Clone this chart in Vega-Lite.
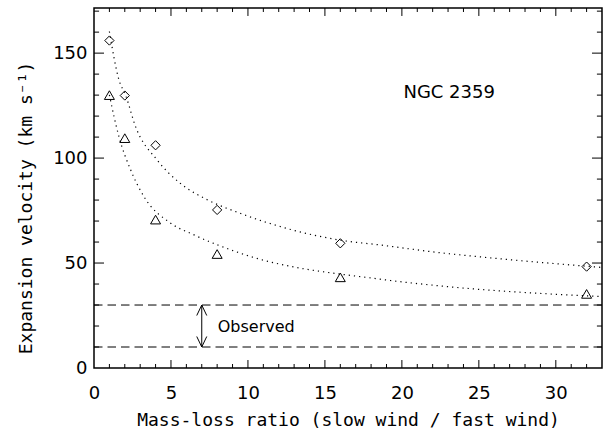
{
  "$schema": "https://vega.github.io/schema/vega-lite/v6.json",
  "width": 508,
  "height": 360,
  "autosize": {"type": "none"},
  "padding": {"left": 94, "top": 8, "right": 3, "bottom": 60},
  "background": "white",
  "config": {
    "view": {"stroke": "black", "strokeWidth": 1.5},
    "font": "DejaVu Sans",
    "axis": {
      "domain": false,
      "grid": false,
      "ticks": false,
      "labelColor": "black",
      "labelFont": "DejaVu Sans",
      "labelFontSize": 18,
      "labelFlush": false,
      "labelOverlap": false,
      "labelBound": false,
      "titleColor": "black",
      "titleFont": "DejaVu Sans Mono",
      "titleFontSize": 18,
      "titleFontWeight": "normal"
    }
  },
  "datasets": {
    "models": [
      {"ratio": 1, "velocity": 156.0, "model": "A"},
      {"ratio": 2, "velocity": 129.8, "model": "A"},
      {"ratio": 4, "velocity": 106.1, "model": "A"},
      {"ratio": 8, "velocity": 75.3, "model": "A"},
      {"ratio": 16, "velocity": 59.4, "model": "A"},
      {"ratio": 32, "velocity": 48.3, "model": "A"},
      {"ratio": 1, "velocity": 130.0, "model": "B"},
      {"ratio": 2, "velocity": 109.5, "model": "B"},
      {"ratio": 4, "velocity": 70.7, "model": "B"},
      {"ratio": 8, "velocity": 54.3, "model": "B"},
      {"ratio": 16, "velocity": 43.2, "model": "B"},
      {"ratio": 32, "velocity": 35.3, "model": "B"}
    ],
    "fits": [
      {"ratio": 1.0, "velocity": 160.3, "model": "A"},
      {"ratio": 1.62, "velocity": 137.3, "model": "A"},
      {"ratio": 2.06, "velocity": 129.8, "model": "A"},
      {"ratio": 2.7, "velocity": 115.0, "model": "A"},
      {"ratio": 4.1, "velocity": 99.1, "model": "A"},
      {"ratio": 5.6, "velocity": 88.0, "model": "A"},
      {"ratio": 7.4, "velocity": 80.0, "model": "A"},
      {"ratio": 9.5, "velocity": 73.7, "model": "A"},
      {"ratio": 16.0, "velocity": 60.9, "model": "A"},
      {"ratio": 18.6, "velocity": 58.6, "model": "A"},
      {"ratio": 22.5, "velocity": 54.9, "model": "A"},
      {"ratio": 25.0, "velocity": 53.0, "model": "A"},
      {"ratio": 33.0, "velocity": 47.9, "model": "A"},
      {"ratio": 1.0, "velocity": 130.1, "model": "B"},
      {"ratio": 1.3, "velocity": 119.8, "model": "B"},
      {"ratio": 1.62, "velocity": 110.2, "model": "B"},
      {"ratio": 2.38, "velocity": 94.4, "model": "B"},
      {"ratio": 3.25, "velocity": 81.6, "model": "B"},
      {"ratio": 4.98, "velocity": 69.0, "model": "B"},
      {"ratio": 6.5, "velocity": 63.4, "model": "B"},
      {"ratio": 9.5, "velocity": 54.7, "model": "B"},
      {"ratio": 18.6, "velocity": 42.3, "model": "B"},
      {"ratio": 22.5, "velocity": 39.1, "model": "B"},
      {"ratio": 33.0, "velocity": 34.0, "model": "B"}
    ],
    "observed": [
      {"ratio": 7, "low": 10, "high": 30, "label": "Observed", "labelRatio": 8.04, "labelVelocity": 17.2}
    ],
    "bounds": [
      {"velocity": 10},
      {"velocity": 30}
    ],
    "object": [
      {"ratio": 20.1, "velocity": 128.7, "label": "NGC 2359"}
    ],
    "ratioTicks": [
      {"ratio": 1, "from": 0, "to": 1.9}, {"ratio": 2, "from": 0, "to": 1.9}, {"ratio": 3, "from": 0, "to": 1.9}, {"ratio": 4, "from": 0, "to": 1.9},
      {"ratio": 5, "from": 0, "to": 3.8}, {"ratio": 6, "from": 0, "to": 1.9}, {"ratio": 7, "from": 0, "to": 1.9}, {"ratio": 8, "from": 0, "to": 1.9},
      {"ratio": 9, "from": 0, "to": 1.9}, {"ratio": 10, "from": 0, "to": 3.8}, {"ratio": 11, "from": 0, "to": 1.9}, {"ratio": 12, "from": 0, "to": 1.9},
      {"ratio": 13, "from": 0, "to": 1.9}, {"ratio": 14, "from": 0, "to": 1.9}, {"ratio": 15, "from": 0, "to": 3.8}, {"ratio": 16, "from": 0, "to": 1.9},
      {"ratio": 17, "from": 0, "to": 1.9}, {"ratio": 18, "from": 0, "to": 1.9}, {"ratio": 19, "from": 0, "to": 1.9}, {"ratio": 20, "from": 0, "to": 3.8},
      {"ratio": 21, "from": 0, "to": 1.9}, {"ratio": 22, "from": 0, "to": 1.9}, {"ratio": 23, "from": 0, "to": 1.9}, {"ratio": 24, "from": 0, "to": 1.9},
      {"ratio": 25, "from": 0, "to": 3.8}, {"ratio": 26, "from": 0, "to": 1.9}, {"ratio": 27, "from": 0, "to": 1.9}, {"ratio": 28, "from": 0, "to": 1.9},
      {"ratio": 29, "from": 0, "to": 1.9}, {"ratio": 30, "from": 0, "to": 3.8}, {"ratio": 31, "from": 0, "to": 1.9}, {"ratio": 32, "from": 0, "to": 1.9},
      {"ratio": 1, "from": 171.5, "to": 169.6}, {"ratio": 2, "from": 171.5, "to": 169.6}, {"ratio": 3, "from": 171.5, "to": 169.6}, {"ratio": 4, "from": 171.5, "to": 169.6},
      {"ratio": 5, "from": 171.5, "to": 167.7}, {"ratio": 6, "from": 171.5, "to": 169.6}, {"ratio": 7, "from": 171.5, "to": 169.6}, {"ratio": 8, "from": 171.5, "to": 169.6},
      {"ratio": 9, "from": 171.5, "to": 169.6}, {"ratio": 10, "from": 171.5, "to": 167.7}, {"ratio": 11, "from": 171.5, "to": 169.6}, {"ratio": 12, "from": 171.5, "to": 169.6},
      {"ratio": 13, "from": 171.5, "to": 169.6}, {"ratio": 14, "from": 171.5, "to": 169.6}, {"ratio": 15, "from": 171.5, "to": 167.7}, {"ratio": 16, "from": 171.5, "to": 169.6},
      {"ratio": 17, "from": 171.5, "to": 169.6}, {"ratio": 18, "from": 171.5, "to": 169.6}, {"ratio": 19, "from": 171.5, "to": 169.6}, {"ratio": 20, "from": 171.5, "to": 167.7},
      {"ratio": 21, "from": 171.5, "to": 169.6}, {"ratio": 22, "from": 171.5, "to": 169.6}, {"ratio": 23, "from": 171.5, "to": 169.6}, {"ratio": 24, "from": 171.5, "to": 169.6},
      {"ratio": 25, "from": 171.5, "to": 167.7}, {"ratio": 26, "from": 171.5, "to": 169.6}, {"ratio": 27, "from": 171.5, "to": 169.6}, {"ratio": 28, "from": 171.5, "to": 169.6},
      {"ratio": 29, "from": 171.5, "to": 169.6}, {"ratio": 30, "from": 171.5, "to": 167.7}, {"ratio": 31, "from": 171.5, "to": 169.6}, {"ratio": 32, "from": 171.5, "to": 169.6}
    ],
    "velocityTicks": [
      {"velocity": 10, "from": 0, "to": 0.33}, {"velocity": 20, "from": 0, "to": 0.33}, {"velocity": 30, "from": 0, "to": 0.33}, {"velocity": 40, "from": 0, "to": 0.33},
      {"velocity": 50, "from": 0, "to": 0.65}, {"velocity": 60, "from": 0, "to": 0.33}, {"velocity": 70, "from": 0, "to": 0.33}, {"velocity": 80, "from": 0, "to": 0.33},
      {"velocity": 90, "from": 0, "to": 0.33}, {"velocity": 100, "from": 0, "to": 0.65}, {"velocity": 110, "from": 0, "to": 0.33}, {"velocity": 120, "from": 0, "to": 0.33},
      {"velocity": 130, "from": 0, "to": 0.33}, {"velocity": 140, "from": 0, "to": 0.33}, {"velocity": 150, "from": 0, "to": 0.65}, {"velocity": 160, "from": 0, "to": 0.33},
      {"velocity": 170, "from": 0, "to": 0.33},
      {"velocity": 10, "from": 33, "to": 32.67}, {"velocity": 20, "from": 33, "to": 32.67}, {"velocity": 30, "from": 33, "to": 32.67}, {"velocity": 40, "from": 33, "to": 32.67},
      {"velocity": 50, "from": 33, "to": 32.35}, {"velocity": 60, "from": 33, "to": 32.67}, {"velocity": 70, "from": 33, "to": 32.67}, {"velocity": 80, "from": 33, "to": 32.67},
      {"velocity": 90, "from": 33, "to": 32.67}, {"velocity": 100, "from": 33, "to": 32.35}, {"velocity": 110, "from": 33, "to": 32.67}, {"velocity": 120, "from": 33, "to": 32.67},
      {"velocity": 130, "from": 33, "to": 32.67}, {"velocity": 140, "from": 33, "to": 32.67}, {"velocity": 150, "from": 33, "to": 32.35}, {"velocity": 160, "from": 33, "to": 32.67},
      {"velocity": 170, "from": 33, "to": 32.67}
    ]
  },
  "layer": [
    {
      "description": "Model A expansion velocities (diamonds); labelled bottom and left axes",
      "data": {"name": "models"},
      "transform": [{"filter": "datum.model === 'A'"}],
      "mark": {"type": "point", "shape": "diamond", "size": 85, "filled": false, "stroke": "black", "strokeWidth": 1, "opacity": 1},
      "encoding": {
        "x": {
          "field": "ratio", "type": "quantitative",
          "scale": {"domain": [0, 33], "nice": false, "zero": false},
          "axis": {
            "orient": "bottom",
            "values": [0, 5, 10, 15, 20, 25, 30],
            "labelPadding": 16,
            "title": "Mass-loss ratio (slow wind / fast wind)",
            "titleX": 254, "titleY": 57, "titleBaseline": "alphabetic"
          }
        },
        "y": {
          "field": "velocity", "type": "quantitative",
          "scale": {"domain": [0, 171.5], "nice": false, "zero": false},
          "axis": {
            "orient": "left",
            "values": [0, 50, 100, 150],
            "labelPadding": 7,
            "title": "Expansion velocity (km s⁻¹)",
            "titleAngle": 270, "titleX": -68, "titleY": 199.5, "titleBaseline": "middle"
          }
        }
      }
    },
    {
      "description": "Model B expansion velocities (triangles)",
      "data": {"name": "models"},
      "transform": [{"filter": "datum.model === 'B'"}],
      "mark": {"type": "point", "shape": "triangle-up", "size": 100, "filled": false, "stroke": "black", "strokeWidth": 1, "opacity": 1},
      "encoding": {
        "x": {"field": "ratio", "type": "quantitative", "scale": {"domain": [0, 33], "nice": false, "zero": false}, "axis": null},
        "y": {"field": "velocity", "type": "quantitative", "scale": {"domain": [0, 171.5], "nice": false, "zero": false}, "axis": null}
      }
    },
    {
      "description": "Inward ratio ticks along the bottom and top edges",
      "data": {"name": "ratioTicks"},
      "mark": {"type": "rule", "stroke": "black", "strokeWidth": 1},
      "encoding": {
        "x": {"field": "ratio", "type": "quantitative", "scale": {"domain": [0, 33], "nice": false, "zero": false}, "axis": null},
        "y": {"field": "from", "type": "quantitative", "scale": {"domain": [0, 171.5], "nice": false, "zero": false}, "axis": null},
        "y2": {"field": "to"}
      }
    },
    {
      "description": "Inward velocity ticks along the left and right edges",
      "data": {"name": "velocityTicks"},
      "mark": {"type": "rule", "stroke": "black", "strokeWidth": 1},
      "encoding": {
        "y": {"field": "velocity", "type": "quantitative", "scale": {"domain": [0, 171.5], "nice": false, "zero": false}, "axis": null},
        "x": {"field": "from", "type": "quantitative", "scale": {"domain": [0, 33], "nice": false, "zero": false}, "axis": null},
        "x2": {"field": "to"}
      }
    },
    {
      "description": "Fitted curve for model A",
      "data": {"name": "fits"},
      "transform": [{"filter": "datum.model === 'A'"}],
      "mark": {"type": "line", "interpolate": "monotone", "stroke": "black", "strokeWidth": 1.2, "strokeDash": [1.2, 4]},
      "encoding": {
        "x": {"field": "ratio", "type": "quantitative", "scale": {"domain": [0, 33], "nice": false, "zero": false}, "axis": null},
        "y": {"field": "velocity", "type": "quantitative", "scale": {"domain": [0, 171.5], "nice": false, "zero": false}, "axis": null}
      }
    },
    {
      "description": "Fitted curve for model B",
      "data": {"name": "fits"},
      "transform": [{"filter": "datum.model === 'B'"}],
      "mark": {"type": "line", "interpolate": "monotone", "stroke": "black", "strokeWidth": 1.2, "strokeDash": [1.2, 4]},
      "encoding": {
        "x": {"field": "ratio", "type": "quantitative", "scale": {"domain": [0, 33], "nice": false, "zero": false}, "axis": null},
        "y": {"field": "velocity", "type": "quantitative", "scale": {"domain": [0, 171.5], "nice": false, "zero": false}, "axis": null}
      }
    },
    {
      "description": "Observed velocity range: vertical arrow shaft",
      "data": {"name": "observed"},
      "mark": {"type": "rule", "stroke": "black", "strokeWidth": 1},
      "encoding": {
        "x": {"field": "ratio", "type": "quantitative", "scale": {"domain": [0, 33], "nice": false, "zero": false}, "axis": null},
        "y": {"field": "low", "type": "quantitative", "scale": {"domain": [0, 171.5], "nice": false, "zero": false}, "axis": null},
        "y2": {"field": "high"}
      }
    },
    {
      "description": "Dashed lines bounding the observed range",
      "data": {"name": "bounds"},
      "mark": {"type": "rule", "stroke": "black", "strokeWidth": 1, "strokeDash": [8.5, 5]},
      "encoding": {
        "y": {"field": "velocity", "type": "quantitative", "scale": {"domain": [0, 171.5], "nice": false, "zero": false}, "axis": null}
      }
    },
    {
      "description": "Upper arrowhead",
      "data": {"name": "observed"},
      "mark": {"type": "point", "shape": "M-1,2.1L0,0L1,2.1", "size": 100, "filled": false, "stroke": "black", "strokeWidth": 1, "opacity": 1},
      "encoding": {
        "x": {"field": "ratio", "type": "quantitative", "scale": {"domain": [0, 33], "nice": false, "zero": false}, "axis": null},
        "y": {"field": "high", "type": "quantitative", "scale": {"domain": [0, 171.5], "nice": false, "zero": false}, "axis": null}
      }
    },
    {
      "description": "Lower arrowhead",
      "data": {"name": "observed"},
      "mark": {"type": "point", "shape": "M-1,-2.1L0,0L1,-2.1", "size": 100, "filled": false, "stroke": "black", "strokeWidth": 1, "opacity": 1},
      "encoding": {
        "x": {"field": "ratio", "type": "quantitative", "scale": {"domain": [0, 33], "nice": false, "zero": false}, "axis": null},
        "y": {"field": "low", "type": "quantitative", "scale": {"domain": [0, 171.5], "nice": false, "zero": false}, "axis": null}
      }
    },
    {
      "description": "Label for the observed range",
      "data": {"name": "observed"},
      "mark": {"type": "text", "align": "left", "baseline": "alphabetic", "font": "DejaVu Sans", "fontSize": 16, "color": "black"},
      "encoding": {
        "x": {"field": "labelRatio", "type": "quantitative", "scale": {"domain": [0, 33], "nice": false, "zero": false}, "axis": null},
        "y": {"field": "labelVelocity", "type": "quantitative", "scale": {"domain": [0, 171.5], "nice": false, "zero": false}, "axis": null},
        "text": {"field": "label"}
      }
    },
    {
      "description": "Object name",
      "data": {"name": "object"},
      "mark": {"type": "text", "align": "left", "baseline": "alphabetic", "font": "DejaVu Sans", "fontSize": 18, "color": "black"},
      "encoding": {
        "x": {"field": "ratio", "type": "quantitative", "scale": {"domain": [0, 33], "nice": false, "zero": false}, "axis": null},
        "y": {"field": "velocity", "type": "quantitative", "scale": {"domain": [0, 171.5], "nice": false, "zero": false}, "axis": null},
        "text": {"field": "label"}
      }
    }
  ],
  "resolve": {"axis": {"x": "independent", "y": "independent"}}
}
